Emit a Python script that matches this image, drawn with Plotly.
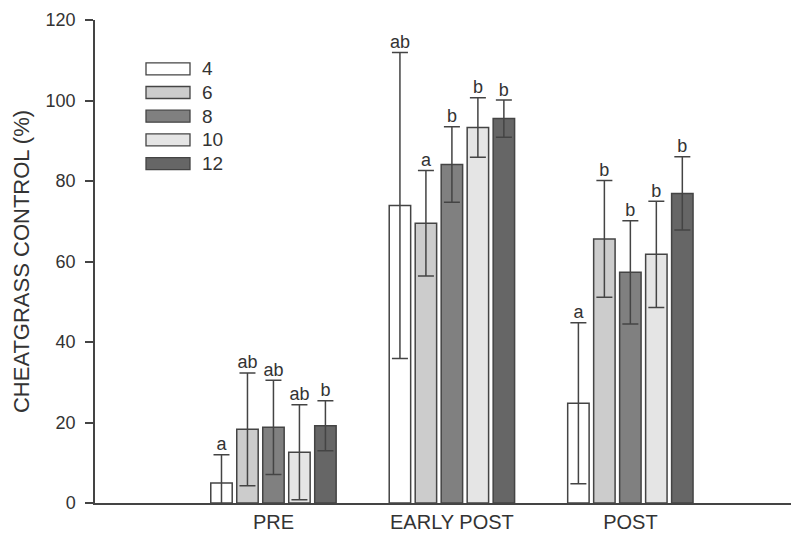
import plotly.graph_objects as go

# ---- data ----
categories = ["PRE", "EARLY POST", "POST"]
rates = ["4", "6", "8", "10", "12"]
colors = ["#ffffff", "#cccccc", "#808080", "#e5e5e5", "#666666"]

mean_4 = [5.0, 73.9, 24.8]
mean_6 = [18.3, 69.5, 65.6]
mean_8 = [18.8, 84.1, 57.3]
mean_10 = [12.6, 93.3, 61.8]
mean_12 = [19.2, 95.5, 76.9]

err_4 = [7.0, 38.0, 20.0]
err_6 = [14.0, 13.1, 14.5]
err_8 = [11.7, 9.4, 12.8]
err_10 = [11.8, 7.4, 13.2]
err_12 = [6.2, 4.6, 9.1]

let_4 = ["a", "ab", "a"]
let_6 = ["ab", "a", "b"]
let_8 = ["ab", "b", "b"]
let_10 = ["ab", "b", "b"]
let_12 = ["b", "b", "b"]

y_ticks = [0, 20, 40, 60, 80, 100, 120]

means = [mean_4, mean_6, mean_8, mean_10, mean_12]
errs = [err_4, err_6, err_8, err_10, err_12]
letters = [let_4, let_6, let_8, let_10, let_12]

# ---- styling / layout ----
INK = "#444444"
TXT = "#333333"
FONT = "Liberation Sans, Arial, sans-serif"
bargap = 0.272
groupgap = 0.175
n = len(rates)
slot = (1 - bargap) / n
bar_w = slot * (1 - groupgap)

fig = go.Figure()
for i, (r, c) in enumerate(zip(rates, colors)):
    xs = [k + (i - (n - 1) / 2) * slot for k in range(len(categories))]
    fig.add_trace(go.Bar(
        x=xs, y=means[i], width=bar_w, name=r, showlegend=False,
        marker=dict(color=c, line=dict(color=INK, width=1.5)),
        error_y=dict(type="data", array=errs[i], visible=True,
                     color=INK, thickness=1.5, width=8),
    ))
    tops = [m + e for m, e in zip(means[i], errs[i])]
    fig.add_trace(go.Scatter(
        x=xs, y=tops, mode="text", text=letters[i], showlegend=False,
        textposition="top center", cliponaxis=False,
        textfont=dict(family=FONT, size=18, color=TXT), hoverinfo="skip",
    ))

# custom legend (wide swatches like the original); positions in page px
L_TOP = 68.8       # px of first row centre
L_STEP = 23.7      # px between rows
PLOT_TOP, PLOT_H, PLOT_L, PLOT_W = 20, 483, 95, 704
for i, (r, c) in enumerate(zip(rates, colors)):
    yc = L_TOP + i * L_STEP
    y0 = 1 - (yc + 6 - PLOT_TOP) / PLOT_H
    y1 = 1 - (yc - 6 - PLOT_TOP) / PLOT_H
    fig.add_shape(type="rect", xref="paper", yref="paper",
                  x0=(146 - PLOT_L) / PLOT_W, x1=(190 - PLOT_L) / PLOT_W,
                  y0=y0, y1=y1, fillcolor=c, line=dict(color=INK, width=1.3))
    fig.add_annotation(xref="paper", yref="paper", x=(200 - PLOT_L) / PLOT_W,
                       y=(y0 + y1) / 2, text=r, showarrow=False,
                       xanchor="left", yanchor="middle",
                       font=dict(family=FONT, size=19, color=TXT))

# the page body has an 8px default margin; size the figure to fill the rest
fig.update_layout(
    width=791, height=525,
    margin=dict(l=87, r=0, t=12, b=30),
    plot_bgcolor="white", paper_bgcolor="white",
    font=dict(family=FONT, color=TXT),
    xaxis=dict(range=[-1.0, 2.945], tickvals=list(range(len(categories))),
               ticktext=categories, showline=True, linecolor=INK, linewidth=1.5,
               ticks="", showgrid=False, zeroline=False,
               tickfont=dict(family=FONT, size=20, color=TXT)),
    yaxis=dict(range=[0, 120], tickvals=y_ticks, showline=True, linecolor=INK,
               linewidth=1.5, ticks="outside", ticklen=8, tickwidth=1.5,
               tickcolor=INK, showgrid=False, zeroline=False,
               ticklabelstandoff=6,
               tickfont=dict(family=FONT, size=18, color=TXT),
               title=dict(text="CHEATGRASS CONTROL (%)", standoff=10,
                          font=dict(family=FONT, size=22, color=TXT))),
)

fig.write_html("out.html")
